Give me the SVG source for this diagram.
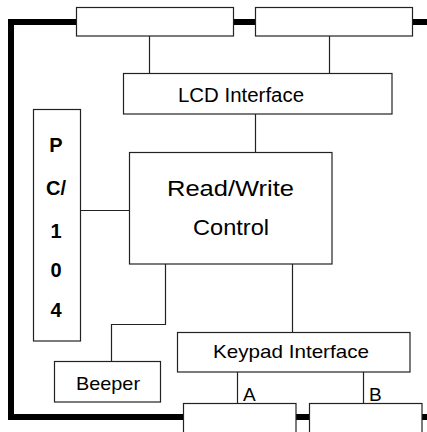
<svg xmlns="http://www.w3.org/2000/svg" width="427" height="432" viewBox="0 0 427 432">
<style>
.bus{fill:none;stroke:#000;stroke-width:6;stroke-linejoin:miter}
.box{fill:#fff;stroke:#222;stroke-width:1.2}
.wire{fill:none;stroke:#222;stroke-width:1.2}
.t{font-family:"Liberation Sans",Arial,sans-serif;fill:#000}
.b{font-family:"Liberation Sans",Arial,sans-serif;font-weight:bold;fill:#000;font-size:20px;text-anchor:middle}
</style>
<rect width="427" height="432" fill="#fff"/>
<g id="connectors">
<path class="bus" d="M427,22 H11 V417 H427"/>
<path class="wire" d="M149.5,36 V73.5"/>
<path class="wire" d="M329.5,36 V73.5"/>
<path class="wire" d="M255.5,114 V152.5"/>
<path class="wire" d="M80.5,210.5 H129.5"/>
<path class="wire" d="M165.5,264 V324.5 H111.5 V361.5"/>
<path class="wire" d="M292.5,264 V332.5"/>
<path class="wire" d="M237.5,372 V403.5"/>
<path class="wire" d="M363.5,372 V403.5"/>
</g>
<g id="top-box-1"><rect class="box" x="76.5" y="7.5" width="157" height="28.5"/></g>
<g id="top-box-2"><rect class="box" x="255.5" y="7.5" width="157" height="28.5"/></g>
<g id="lcd-interface"><rect class="box" x="123.5" y="73.5" width="268.5" height="40.5"/>
<text class="t" x="178" y="102" font-size="19.5" textLength="126" lengthAdjust="spacingAndGlyphs">LCD Interface</text></g>
<g id="pc104"><rect class="box" x="33.5" y="109.5" width="47" height="231.5"/>
<text class="b" x="56" y="152">P</text>
<text class="b" x="56" y="195">C/</text>
<text class="b" x="56" y="237.5">1</text>
<text class="b" x="56" y="276.5">0</text>
<text class="b" x="56" y="317">4</text></g>
<g id="read-write-control"><rect class="box" x="129.5" y="152.5" width="202.5" height="111.5"/>
<text class="t" x="167" y="196" font-size="21.5" textLength="127" lengthAdjust="spacingAndGlyphs">Read/Write</text>
<text class="t" x="193" y="234.5" font-size="21.5" textLength="76" lengthAdjust="spacingAndGlyphs">Control</text></g>
<g id="beeper"><rect class="box" x="54.5" y="361.5" width="106" height="40.5"/>
<text class="t" x="76" y="390" font-size="18.6" textLength="64" lengthAdjust="spacingAndGlyphs">Beeper</text></g>
<g id="keypad-interface"><rect class="box" x="177.5" y="332.5" width="232.5" height="39.5"/>
<text class="t" x="213" y="358.3" font-size="18.6" textLength="156" lengthAdjust="spacingAndGlyphs">Keypad Interface</text></g>
<g id="label-a"><text class="t" x="243" y="401" font-size="19">A</text></g>
<g id="label-b"><text class="t" x="369" y="401" font-size="19">B</text></g>
<g id="bottom-box-1"><rect class="box" x="183.5" y="403.5" width="112.5" height="40"/></g>
<g id="bottom-box-2"><rect class="box" x="309.5" y="403.5" width="112.5" height="40"/></g>
</svg>
